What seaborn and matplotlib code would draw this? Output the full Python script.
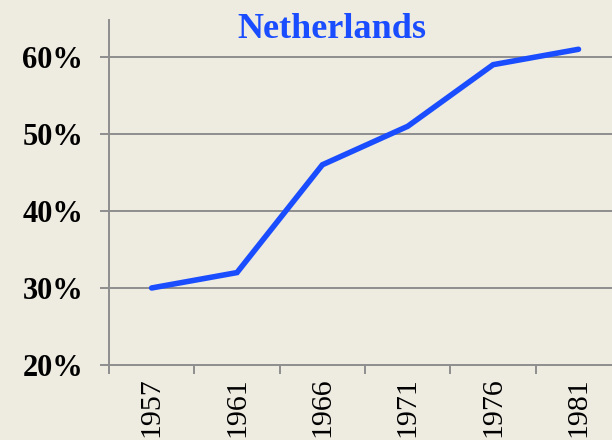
import numpy as np
import pandas as pd
import matplotlib
matplotlib.use("Agg")
import matplotlib.pyplot as plt
import seaborn as sns

# data
years = ["1957", "1961", "1966", "1971", "1976", "1981"]
share = [30, 32, 46, 51, 59, 61]  # percent
y_ticks = [20, 30, 40, 50, 60]

bg = "#EEEBE1"
blue = "#1A4DFF"
grey = "#8E8E8E"

sns.set_style("white", {"xtick.bottom": True, "ytick.left": True})
plt.rcParams["font.family"] = ["Liberation Serif", "DejaVu Serif"]
plt.rcParams["text.color"] = "black"

df = pd.DataFrame({"pos": np.arange(len(years)), "share": share})

fig = plt.figure(figsize=(6.12, 4.4), dpi=100, facecolor=bg)
ax = fig.add_axes([0.178, 0.1705, 0.837, 0.784])
ax.set_facecolor(bg)

sns.lineplot(data=df, x="pos", y="share", ax=ax, color=blue, linewidth=4,
             solid_capstyle="round", solid_joinstyle="miter")

ax.set_xlim(-0.5, len(years) - 0.5)
ax.set_ylim(20, 64.8)

# horizontal grid
ax.set_yticks(y_ticks)
ax.set_yticklabels([f"{v}%" for v in y_ticks], fontsize=22, fontweight="bold",
                   color="black")
for v in y_ticks[1:]:
    ax.axhline(v, color=grey, linewidth=1.4, zorder=0)

# category labels in the middle, tick marks between categories
ax.set_xticks(np.arange(len(years)))
ax.set_xticklabels(years, rotation=90, fontsize=21.5, color="black")
ax.set_xticks(np.arange(len(years) + 1) - 0.5, minor=True)
ax.tick_params(axis="x", which="major", length=0, pad=9)
ax.tick_params(axis="x", which="minor", bottom=True, length=6.5, width=1.4,
               color=grey, direction="out")
ax.tick_params(axis="y", left=True, length=6.5, width=1.4, color=grey,
               direction="out", pad=12)

for s in ["top", "right"]:
    ax.spines[s].set_visible(False)
for s in ["left", "bottom"]:
    ax.spines[s].set_color(grey)
    ax.spines[s].set_linewidth(1.4)

ax.set_xlabel("")
ax.set_ylabel("")
ax.set_title("Netherlands", color=blue, fontsize=26, fontweight="bold",
             x=0.435, y=0.925)

fig.savefig("out.png", dpi=100, facecolor=bg)
